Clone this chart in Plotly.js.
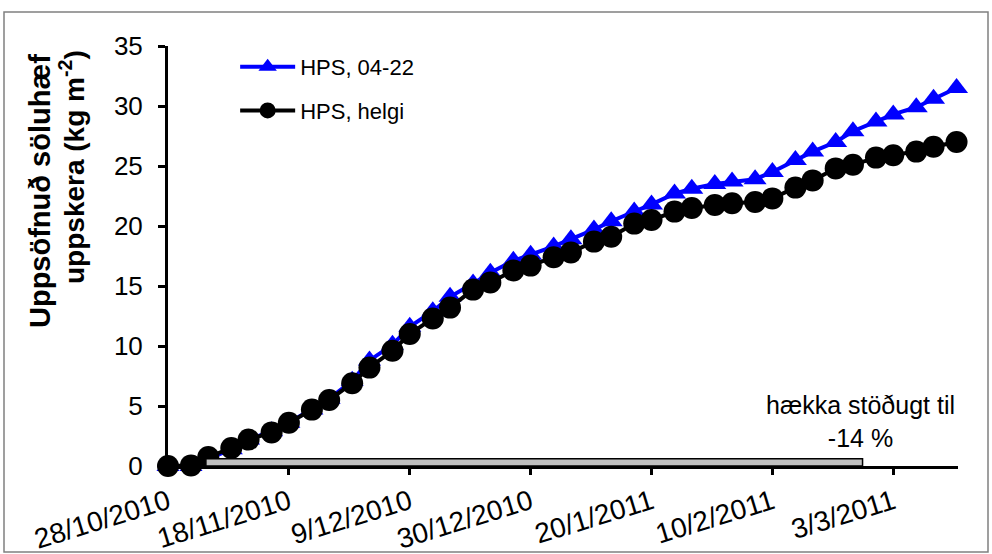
<!DOCTYPE html>
<html>
<head>
<meta charset="utf-8">
<script src="https://cdn.plot.ly/plotly-3.0.1.min.js"></script>
<style>html,body{margin:0;padding:0;background:#fff;}#chart{width:992px;height:554px;}</style>
</head>
<body>
<div id="chart"></div>
<script>
// Harvest dates (Mondays and Thursdays)
var dates = [
  '2010-10-28','2010-11-01','2010-11-04','2010-11-08','2010-11-11','2010-11-15','2010-11-18',
  '2010-11-22','2010-11-25','2010-11-29','2010-12-02','2010-12-06','2010-12-09','2010-12-13',
  '2010-12-16','2010-12-20','2010-12-23','2010-12-27','2010-12-30','2011-01-03','2011-01-06',
  '2011-01-10','2011-01-13','2011-01-17','2011-01-20','2011-01-24','2011-01-27','2011-01-31',
  '2011-02-03','2011-02-07','2011-02-10','2011-02-14','2011-02-17','2011-02-21','2011-02-24',
  '2011-02-28','2011-03-03','2011-03-07','2011-03-10','2011-03-14'
];
// HPS, 04-22 (blue triangles)
var hps0422 = [
  0, 0, 0.6, 1.4, 2.2, 2.9, 3.6,
  4.7, 5.6, 7.1, 8.8, 10.1, 11.6, 12.9,
  14.1, 15.2, 16.1, 17.1, 17.6, 18.3, 18.9,
  19.7, 20.4, 21.2, 21.8, 22.7, 23.1, 23.5,
  23.7, 23.9, 24.5, 25.5, 26.2, 27.0, 27.9,
  28.7, 29.3, 29.9, 30.6, 31.5
];
// HPS, helgi (black circles)
var hpsHelgi = [
  0, 0.05, 0.75, 1.5, 2.2, 2.8, 3.6,
  4.7, 5.5, 6.9, 8.2, 9.6, 11.0, 12.3,
  13.2, 14.7, 15.3, 16.3, 16.7, 17.4, 17.8,
  18.7, 19.1, 20.2, 20.5, 21.2, 21.5, 21.75,
  21.9, 22.0, 22.3, 23.2, 23.8, 24.8, 25.1,
  25.7, 25.9, 26.2, 26.6, 27.0
];
var seriesNames = ['HPS, 04-22', 'HPS, helgi'];
var tickDates = ['2010-10-28','2010-11-18','2010-12-09','2010-12-30','2011-01-20','2011-02-10','2011-03-03'];
var tickLabels = ['28/10/2010','18/11/2010','9/12/2010','30/12/2010','20/1/2011','10/2/2011','3/3/2011'];
var yTicks = [0, 5, 10, 15, 20, 25, 30, 35];
var titleLine1 = 'Uppsöfnuð söluhæf';
var titleLine2 = 'uppskera (kg m<sup>-2</sup>)';
var noteText = 'hækka stöðugt til<br>-14 %';

var FONT = 'Arial, "Liberation Sans", sans-serif';

var traces = [
  {
    x: dates, y: hps0422, name: seriesNames[0], type: 'scatter', mode: 'lines+markers',
    line: {color: '#0000ff', width: 4},
    marker: {symbol: 'triangle-up', size: 20, color: '#0000ff'},
    cliponaxis: false, legendgroup: 'a'
  },
  {
    x: dates, y: hpsHelgi, name: seriesNames[1], type: 'scatter', mode: 'lines+markers',
    line: {color: '#000000', width: 4},
    marker: {symbol: 'circle', size: 22, color: '#000000'},
    cliponaxis: false, legendgroup: 'b'
  }
];

var layout = {
  width: 992, height: 554,
  paper_bgcolor: '#ffffff', plot_bgcolor: '#ffffff',
  margin: {l: 168, r: 34, t: 46, b: 88},
  font: {family: FONT, color: '#000', size: 23},
  showlegend: true,
  legend: {
    x: 0.085, y: 1.0, xanchor: 'left', yanchor: 'top',
    bgcolor: 'rgba(0,0,0,0)', font: {size: 22, family: FONT},
    tracegroupgap: 12, itemwidth: 55
  },
  xaxis: {
    type: 'date',
    range: ['2010-10-28', '2011-03-14 06:00'],
    tickmode: 'array', tickvals: tickDates, ticktext: tickLabels,
    tickangle: -17,
    ticks: 'outside', ticklen: 6, tickwidth: 3, tickcolor: '#000',
    showline: true, linecolor: '#000', linewidth: 3,
    showgrid: false, zeroline: false,
    tickfont: {size: 28, family: FONT, color: '#000'}
  },
  yaxis: {
    range: [0, 35],
    tickmode: 'array', tickvals: yTicks,
    ticks: 'outside', ticklen: 7, tickwidth: 3, tickcolor: '#000',
    ticklabelstandoff: 10,
    showline: true, linecolor: '#000', linewidth: 3,
    showgrid: false, zeroline: false,
    tickfont: {size: 26, family: FONT, color: '#000'}
  },
  shapes: [
    {type: 'rect', xref: 'x', yref: 'y', x0: '2010-11-03 14:00', x1: '2011-02-25 16:00', y0: 0, y1: 0.6,
     fillcolor: '#c0c0c0', line: {color: '#000', width: 1.5}, layer: 'above'},
    {type: 'rect', xref: 'paper', yref: 'paper',
     x0: -164/790, x1: 1 + 30/790, y0: -86/420, y1: 1 + 34/420,
     line: {color: '#808080', width: 1.5}, fillcolor: 'rgba(0,0,0,0)', layer: 'below'}
  ],
  annotations: [
    {text: titleLine1, xref: 'paper', yref: 'paper', x: -128/790, y: (466-191)/420,
     xanchor: 'center', yanchor: 'middle',
     textangle: -90, showarrow: false, font: {size: 29, family: FONT, weight: 'bold', color: '#000'}},
    {text: titleLine2, xref: 'paper', yref: 'paper', x: -96/790, y: (466-167)/420,
     xanchor: 'center', yanchor: 'middle',
     textangle: -90, showarrow: false, font: {size: 28, family: FONT, weight: 'bold', color: '#000'}},
    {text: noteText, xref: 'paper', yref: 'paper', x: (860-168)/790, y: (466-421)/420,
     xanchor: 'center', yanchor: 'middle',
     showarrow: false, align: 'center', font: {size: 25, family: FONT, color: '#000'}}
  ]
};

Plotly.newPlot('chart', traces, layout, {displayModeBar: false, staticPlot: true});
</script>
</body>
</html>
